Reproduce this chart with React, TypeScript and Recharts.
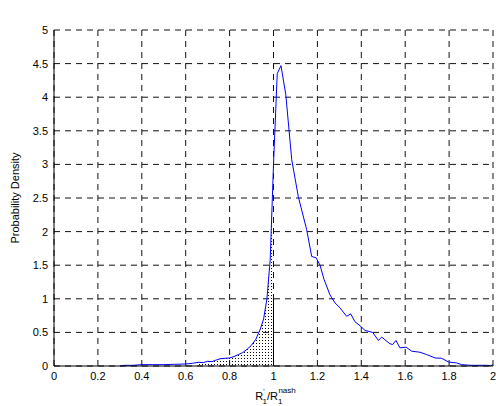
import React from 'react';
import { ComposedChart, Line, Area, XAxis, YAxis, CartesianGrid, ReferenceLine } from 'recharts';

// histogram bin centres (R'1 / R1^nash) and the density
const ratio = [
  0.30, 0.32, 0.36, 0.40, 0.45, 0.50, 0.55, 0.60, 0.63, 0.66, 0.68, 0.70, 0.72, 0.74, 0.76, 0.78,
  0.80, 0.82, 0.84, 0.86, 0.88, 0.90, 0.92, 0.94, 0.955, 0.97, 0.985, 1.00, 1.017, 1.034, 1.056,
  1.083, 1.113, 1.151, 1.174, 1.194, 1.212, 1.23, 1.242, 1.257, 1.28, 1.303, 1.333, 1.352, 1.371,
  1.394, 1.417, 1.452, 1.478, 1.493, 1.508, 1.531, 1.543, 1.558, 1.576, 1.604, 1.63, 1.667, 1.698,
  1.736, 1.766, 1.797, 1.835, 1.857, 1.90, 1.97, 1.99, 2.00,
];
const density = [
  0.00, 0.01, 0.01, 0.02, 0.02, 0.02, 0.025, 0.03, 0.04, 0.055, 0.05, 0.07, 0.065, 0.09, 0.11, 0.115,
  0.12, 0.14, 0.17, 0.20, 0.25, 0.31, 0.40, 0.55, 0.70, 1.00, 1.58, 3.00, 4.35, 4.47, 4.04,
  3.07, 2.52, 2.03, 1.63, 1.61, 1.50, 1.29, 1.19, 1.06, 0.94, 0.865, 0.74, 0.775, 0.66,
  0.60, 0.53, 0.50, 0.38, 0.43, 0.39, 0.33, 0.32, 0.38, 0.27, 0.28, 0.22, 0.205, 0.17,
  0.12, 0.115, 0.06, 0.045, 0.02, 0.01, 0.01, 0.005, 0.02,
];

const xTicks = [0, 0.2, 0.4, 0.6, 0.8, 1, 1.2, 1.4, 1.6, 1.8, 2];
const yTicks = [0, 0.5, 1, 1.5, 2, 2.5, 3, 3.5, 4, 4.5, 5];

// dotted region below the curve, closed by a solid edge at ratio = 1
const shadeFrom = 0.66;
const shadeTo = 1.0;
const edgeBin = 0.97;

const data = ratio.map((r, i) => ({
  ratio: r,
  density: density[i],
  shade: r >= shadeFrom && r <= shadeTo ? density[i] : null,
}));
const edge = data.find((d) => d.ratio === edgeBin);

const font = "'Liberation Sans', Arial, Helvetica, sans-serif";
const tickStyle = { fill: '#000', fontSize: 11, fontFamily: font };

function TitleLabel(props: any) {
  const { viewBox } = props;
  const cx = viewBox.x + viewBox.width / 2 + 6;
  return (
    <text x={cx} y={19} textAnchor="middle" fontSize={11} fontFamily={font} fill="#000">
      Histogram : Ratio of R
      <tspan fontSize={7} dy={-6}>'</tspan>
      <tspan fontSize={8} dx={-2} dy={10}>1</tspan>
      <tspan fontSize={11} dy={-4}>{' over R'}</tspan>
      <tspan fontSize={8} dy={4}>1</tspan>
      <tspan fontSize={8} dx={-4} dy={-11}>nash</tspan>
    </text>
  );
}

function XLabel(props: any) {
  const { viewBox } = props;
  const cx = viewBox.x + viewBox.width / 2 + 2;
  return (
    <text x={cx} y={400} textAnchor="middle" fontSize={11} fontFamily={font} fill="#000">
      R
      <tspan fontSize={7} dy={-6}>'</tspan>
      <tspan fontSize={8} dx={-2} dy={10}>1</tspan>
      <tspan fontSize={11} dy={-4}>/R</tspan>
      <tspan fontSize={8} dy={4}>1</tspan>
      <tspan fontSize={8} dx={-4} dy={-11}>nash</tspan>
    </text>
  );
}

function YLabel(props: any) {
  const { viewBox } = props;
  const cy = viewBox.y + viewBox.height / 2;
  return (
    <text
      x={19}
      y={cy}
      transform={`rotate(-90, 19, ${cy})`}
      textAnchor="middle"
      fontSize={11}
      fontFamily={font}
      fill="#000"
    >
      Probability Density
    </text>
  );
}

export default function App() {
  return (
    <div style={{ position: 'fixed', left: 0, top: 0, background: '#fff' }}>
      <ComposedChart
        width={496}
        height={406}
        data={data}
        margin={{ top: 30, right: 3, bottom: 0, left: 0 }}
      >
        <defs>
          <pattern id="dots" width="3" height="3" patternUnits="userSpaceOnUse">
            <rect x="1" y="1" width="1" height="1" fill="#000" />
          </pattern>
        </defs>
        <CartesianGrid stroke="#111" strokeDasharray="6 5" />
        <XAxis
          dataKey="ratio"
          type="number"
          domain={[0, 2]}
          ticks={xTicks}
          tickLine={false}
          tickMargin={0}
          axisLine={{ stroke: '#000' }}
          tick={tickStyle}
          height={40}
          label={<XLabel />}
        />
        <XAxis
          xAxisId="top"
          orientation="top"
          type="number"
          domain={[0, 2]}
          tick={false}
          tickLine={false}
          axisLine={{ stroke: '#000' }}
          height={0}
          label={<TitleLabel />}
        />
        <YAxis
          type="number"
          domain={[0, 5]}
          ticks={yTicks}
          tickLine={false}
          tickMargin={0}
          axisLine={{ stroke: '#000' }}
          tick={tickStyle}
          width={54}
          label={<YLabel />}
        />
        <YAxis
          yAxisId="right"
          orientation="right"
          type="number"
          domain={[0, 5]}
          tick={false}
          tickLine={false}
          axisLine={{ stroke: '#000' }}
          width={0}
        />
        <Area
          type="linear"
          dataKey="shade"
          stroke="none"
          fill="url(#dots)"
          fillOpacity={1}
          isAnimationActive={false}
        />
        <ReferenceLine
          segment={[{ x: shadeTo, y: 0 }, { x: shadeTo, y: edge ? edge.density : 0 }]}
          stroke="#000"
        />
        <Line
          type="linear"
          dataKey="density"
          stroke="#0000ff"
          strokeWidth={1}
          dot={false}
          isAnimationActive={false}
        />
      </ComposedChart>
    </div>
  );
}
